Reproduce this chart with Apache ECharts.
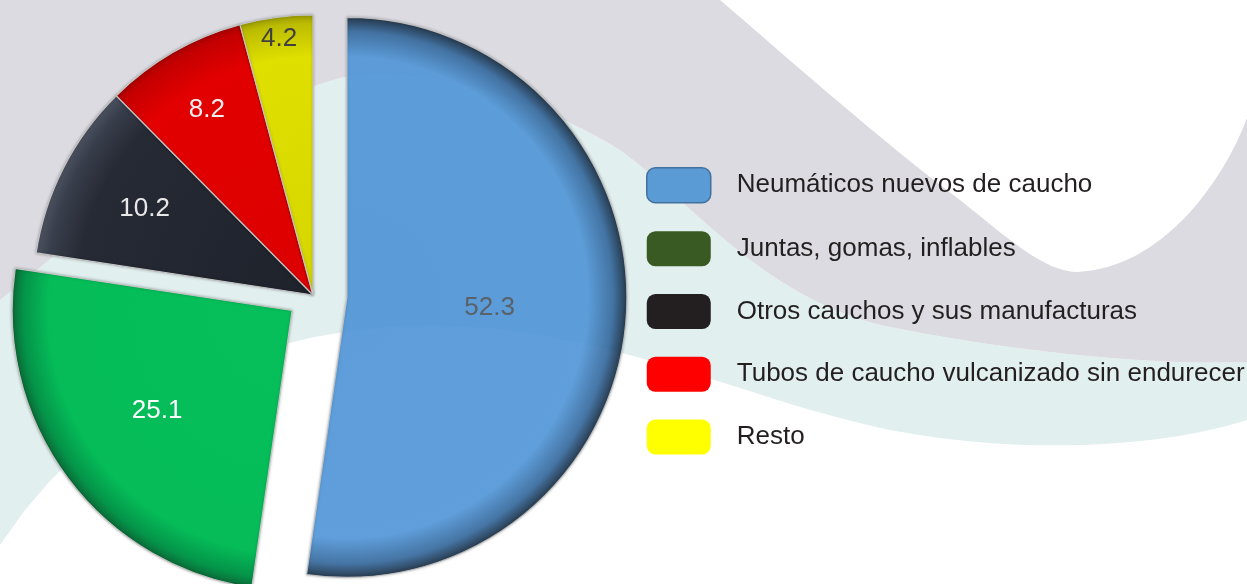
<!DOCTYPE html>
<html>
<head>
<meta charset="utf-8">
<script src="https://cdn.jsdelivr.net/npm/echarts@6/dist/echarts.min.js"></script>
<style>
  html, body { margin: 0; padding: 0; background: #fff; }
  #chart { width: 1247px; height: 584px; }
</style>
</head>
<body>
<div id="chart"></div>
<script>
// datos
var categories = [
  "Neumáticos nuevos de caucho",
  "Juntas, gomas, inflables",
  "Otros cauchos y sus manufacturas",
  "Tubos de caucho vulcanizado sin endurecer",
  "Resto"
];
var values = [52.3, 25.1, 10.2, 8.2, 4.2];

var CX = 313, CY = 295, R = 280;

// colores de las rebanadas (relleno con borde oscurecido tipo bisel)
var sliceStops = [
  [[0, "#4f97dc"], [0.86, "#5199dd"], [0.95, "#346aa0"], [1, "#142a40"]],
  [[0, "#06bf5a"], [0.87, "#05bc58"], [0.96, "#049449"], [1, "#0b6a37"]],
  [[0, "#1e222b"], [0.84, "#252a34"], [0.95, "#393e4c"], [1, "#4c5160"]],
  [[0, "#dc0000"], [0.85, "#e20000"], [0.97, "#c40000"], [1, "#a80000"]],
  [[0, "#d6d600"], [0.85, "#dfdf00"], [0.97, "#bcbc00"], [1, "#9a9a00"]]
];
var sliceOpacity = [0.88, 1, 1, 1, 1];
var labelColors = ["#595959", "#ffffff", "#e8e8e8", "#f0f0f0", "#404040"];
var legendColors = ["#5b9bd5", "#3a5a23", "#231f20", "#ff0000", "#ffff00"];

// curvas del fondo (marca de agua): punto suelto o [c1, c2, fin]
var grayBand = [[0, 0], [720, 0],
  [[790, 60], [880, 140], [960, 200]], [[1010, 240], [1045, 272], [1078, 272]],
  [[1160, 268], [1222, 185], [1247, 118]], [1247, 362],
  [[1150, 366], [1000, 350], [880, 325]], [[760, 295], [690, 200], [620, 150]],
  [[540, 100], [420, 62], [340, 78]], [[220, 110], [100, 220], [0, 300]]];
var tealBand = [[0, 300],
  [[100, 220], [220, 110], [340, 78]], [[420, 62], [540, 100], [620, 150]],
  [[690, 200], [760, 295], [880, 325]], [[1000, 350], [1150, 366], [1247, 362]],
  [1247, 420], [[1160, 448], [1020, 455], [890, 430]],
  [[770, 405], [680, 360], [540, 335]], [[340, 300], [120, 360], [0, 545]]];

function toPoints(seg) {
  var pts = [], last = null;
  seg.forEach(function (s) {
    if (typeof s[0] === "number") { pts.push(s); last = s; return; }
    for (var k = 1; k <= 16; k++) {
      var t = k / 16, u = 1 - t;
      pts.push([
        u * u * u * last[0] + 3 * u * u * t * s[0][0] + 3 * u * t * t * s[1][0] + t * t * t * s[2][0],
        u * u * u * last[1] + 3 * u * u * t * s[0][1] + 3 * u * t * t * s[1][1] + t * t * t * s[2][1]
      ]);
    }
    last = s[2];
  });
  return pts;
}

function rim(i) {
  return {
    type: "radial", x: CX, y: CY, r: R, global: true,
    colorStops: sliceStops[i].map(function (s) { return { offset: s[0], color: s[1] }; })
  };
}

function pieLayer(opt) {
  return {
    type: "pie",
    center: [CX, CY],
    radius: opt.radius || [0, R],
    startAngle: 90,
    clockwise: true,
    selectedMode: opt.offset ? "single" : false,
    selectedOffset: opt.offset || 0,
    avoidLabelOverlap: false,
    silent: true,
    labelLine: { show: false },
    emphasis: { disabled: true },
    data: categories.map(function (name, i) {
      var filled = opt.fill.indexOf(i) > -1;
      var st = filled
        ? { color: rim(i), opacity: sliceOpacity[i], borderColor: "#c4c4c4", borderWidth: 1.2,
            shadowBlur: 3, shadowColor: "rgba(0,0,0,0.25)" }
        : { color: "rgba(0,0,0,0)", borderWidth: 0 };
      return {
        name: name,
        value: values[i],
        selected: opt.selected === i,
        itemStyle: st,
        select: { itemStyle: st },
        label: {
          show: opt.labels.indexOf(i) > -1,
          position: "inside",
          formatter: "{c}",
          color: labelColors[i],
          fontSize: 26,
          fontFamily: "Liberation Sans, Arial, sans-serif"
        }
      };
    })
  };
}

var myChart = echarts.init(document.getElementById("chart"));
var option = {
  backgroundColor: "#ffffff",
  animation: false,
  graphic: [
    {
      type: "polygon", z: -10, silent: true,
      shape: { points: toPoints(grayBand) },
      style: { fill: "#dcdbe1" }
    },
    {
      type: "polygon", z: -11, silent: true,
      shape: { points: toPoints(tealBand) },
      style: { fill: "#e2efef" }
    }
  ],
  legend: {
    orient: "vertical",
    left: 646,
    top: 167,
    padding: 0,
    itemWidth: 64,
    itemHeight: 35,
    itemGap: 27.75,
    icon: "roundRect",
    selectedMode: false,
    textStyle: {
      fontSize: 26,
      color: "#231f20",
      fontFamily: "Liberation Sans, Arial, sans-serif",
      padding: [0, 0, 0, 21]
    },
    data: categories.map(function (name, i) {
      return {
        name: name,
        itemStyle: {
          color: legendColors[i],
          borderColor: i === 0 ? "#41719c" : legendColors[i],
          borderWidth: i === 0 ? 1.5 : 0
        }
      };
    })
  },
  series: [
    pieLayer({ fill: [2, 3, 4], labels: [] }),
    pieLayer({ fill: [1], labels: [], offset: 26, selected: 1 }),
    pieLayer({ fill: [0], labels: [0], offset: 34, selected: 0 }),
    // capas solo para ubicar las etiquetas
    pieLayer({ fill: [], labels: [1], offset: 26, selected: 1, radius: [145, 185] }),
    pieLayer({ fill: [], labels: [2], radius: [166, 206] }),
    pieLayer({ fill: [], labels: [3], radius: [190, 230] }),
    pieLayer({ fill: [], labels: [4], radius: [235, 275] })
  ]
};
myChart.setOption(option);
</script>
</body>
</html>
